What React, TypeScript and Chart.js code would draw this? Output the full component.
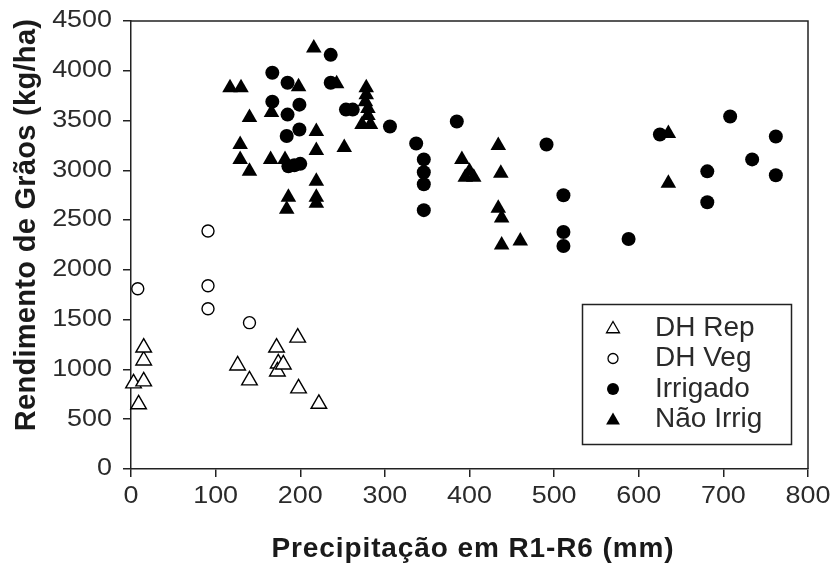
import React, { useEffect, useRef } from "react";
import { Chart, registerables } from "chart.js";

Chart.register(...registerables);

// ---- data ----
const dhRepX = [3, 9, 15, 15, 15, 126, 140, 172, 174, 173, 180, 197, 198, 222];
const dhRepY = [860, 650, 880, 1090, 1220, 1040, 890, 1220, 1060, 980, 1050, 1320, 810, 655];

const dhVegX = [8, 91, 91, 91, 140];
const dhVegY = [1810, 2390, 1840, 1610, 1470];

const irrigX = [167, 185, 167, 199, 185, 199, 184, 186, 193, 200, 236, 236, 254, 262, 306, 337, 346, 346, 346, 346, 385, 491, 511, 511, 511, 588, 625, 681, 681, 708, 734, 762, 762];
const irrigY = [3980, 3880, 3690, 3660, 3560, 3410, 3345, 3040, 3050, 3065, 4160, 3880, 3610, 3610, 3440, 3270, 3110, 2980, 2860, 2600, 3490, 3260, 2750, 2380, 2240, 2310, 3360, 2990, 2680, 3540, 3110, 3340, 2950];

const naoIrrX = [117, 130, 140, 129, 129, 140, 166, 165, 182, 198, 186, 184, 216, 219, 219, 219, 219, 219, 243, 252, 278, 278, 277, 280, 280, 273, 283, 391, 400, 395, 405, 434, 437, 434, 438, 438, 460, 635, 635];
const naoIrrY = [3830, 3830, 3530, 3260, 3110, 2990, 3580, 3110, 3110, 3840, 2730, 2610, 4230, 3390, 3200, 2890, 2730, 2670, 3870, 3230, 3830, 3760, 3690, 3620, 3550, 3460, 3460, 3110, 2990, 2930, 2930, 3250, 2970, 2620, 2520, 2250, 2290, 3370, 2870];

const seriesNames = ["DH Rep", "DH Veg", "Irrigado", "Não Irrig"];
const xTickValues = [0, 100, 200, 300, 400, 500, 600, 700, 800];
const yTickValues = [0, 500, 1000, 1500, 2000, 2500, 3000, 3500, 4000, 4500];
const xTitle = "Precipitação em R1-R6 (mm)";
const yTitle = "Rendimento de Grãos (kg/ha)";

const pts = (xs: number[], ys: number[]) => xs.map((x, i) => ({ x, y: ys[i] }));

const FONT = "'Liberation Sans', Arial, sans-serif";
const INK = "#222";

function txt(ctx: CanvasRenderingContext2D, s: string, x: number, y: number, font: string, align: CanvasTextAlign, sx: number, color: string, rot = 0, spacing = 0) {
  ctx.save();
  ctx.translate(x, y);
  if (rot) ctx.rotate(rot);
  ctx.scale(sx, 1);
  ctx.font = font;
  (ctx as any).letterSpacing = spacing + "px";
  ctx.textAlign = align;
  ctx.textBaseline = "middle";
  ctx.fillStyle = color;
  ctx.fillText(s, 0, 0);
  ctx.restore();
}

function tri(ctx: CanvasRenderingContext2D, x: number, y: number, r: number) {
  const h = r * Math.sqrt(3) / 2;
  ctx.beginPath();
  ctx.moveTo(x, y - r);
  ctx.lineTo(x + h, y + r / 2);
  ctx.lineTo(x - h, y + r / 2);
  ctx.closePath();
}

const decor = {
  id: "decor",
  afterDraw(chart: any) {
    const ctx = chart.ctx as CanvasRenderingContext2D;
    const ca = chart.chartArea;
    const xs = chart.scales.x;
    const ys = chart.scales.y;
    // frame (top and right)
    ctx.save();
    ctx.strokeStyle = INK;
    ctx.lineWidth = 1.5;
    ctx.beginPath();
    ctx.moveTo(ca.left, ca.top);
    ctx.lineTo(ca.right, ca.top);
    ctx.lineTo(ca.right, ca.bottom);
    ctx.stroke();
    ctx.restore();

    // tick labels
    const tickFont = `23px ${FONT}`;
    ys.ticks.forEach((t: any) => {
      txt(ctx, String(t.value), 112, ys.getPixelForValue(t.value), tickFont, "right", 1.17, "#2a2a2a");
    });
    xs.ticks.forEach((t: any) => {
      txt(ctx, String(t.value), xs.getPixelForValue(t.value), 497, tickFont, "center", 1.17, "#2a2a2a");
    });

    // axis titles
    txt(ctx, xTitle, 473, 549, `bold 28px ${FONT}`, "center", 1.0, "#1a1a1a", 0, 0.9);
    txt(ctx, yTitle, 27, 225, `bold 29px ${FONT}`, "center", 1.0, "#1a1a1a", -Math.PI / 2, 0.3);

    // legend
    ctx.save();
    ctx.fillStyle = "#fff";
    ctx.fillRect(582, 304, 209, 140);
    ctx.strokeStyle = INK;
    ctx.lineWidth = 1.5;
    ctx.strokeRect(582.5, 304.5, 209, 140);
    const rows = [328, 358.5, 389, 419.5];
    const mx = 613;
    ctx.lineWidth = 1.3;
    ctx.strokeStyle = "#000";
    ctx.fillStyle = "#fff";
    tri(ctx, mx, rows[0] + 1, 7.5);
    ctx.fill();
    ctx.stroke();
    ctx.beginPath();
    ctx.arc(mx, rows[1], 5, 0, Math.PI * 2);
    ctx.fill();
    ctx.stroke();
    ctx.fillStyle = "#000";
    ctx.beginPath();
    ctx.arc(mx, rows[2], 6, 0, Math.PI * 2);
    ctx.fill();
    tri(ctx, mx, rows[3] + 1, 8);
    ctx.fill();
    ctx.restore();
    seriesNames.forEach((n, i) => {
      txt(ctx, n, 655, rows[i], `28px ${FONT}`, "left", 1.0, "#2a2a2a");
    });
  },
};

export default function App() {
  const ref = useRef<HTMLCanvasElement>(null);
  useEffect(() => {
    document.body.style.margin = "0";
    const canvas = ref.current!;
    const chart = new Chart(canvas, {
      type: "scatter",
      data: {
        datasets: [
          { label: seriesNames[0], data: pts(dhRepX, dhRepY), pointStyle: "triangle", pointRadius: 9, pointBackgroundColor: "#fff", pointBorderColor: "#000", pointBorderWidth: 1.4, clip: false } as any,
          { label: seriesNames[1], data: pts(dhVegX, dhVegY), pointStyle: "circle", pointRadius: 6, pointBackgroundColor: "#fff", pointBorderColor: "#000", pointBorderWidth: 1.4, clip: false } as any,
          { label: seriesNames[2], data: pts(irrigX, irrigY), pointStyle: "circle", pointRadius: 7, pointBackgroundColor: "#000", pointBorderColor: "#000", pointBorderWidth: 0, clip: false } as any,
          { label: seriesNames[3], data: pts(naoIrrX, naoIrrY), pointStyle: "triangle", pointRadius: 9, pointBackgroundColor: "#000", pointBorderColor: "#000", pointBorderWidth: 0, clip: false } as any,
        ],
      },
      options: {
        responsive: false,
        animation: false,
        layout: { padding: { left: 0, top: 21, right: 25, bottom: 0 } },
        plugins: { legend: { display: false }, tooltip: { enabled: false } },
        scales: {
          x: {
            type: "linear",
            min: 0,
            max: 800,
            afterBuildTicks: (s: any) => { s.ticks = xTickValues.map((v) => ({ value: v })); },
            afterFit: (s: any) => { s.height = 575 - 469; },
            ticks: { display: false },
            grid: { drawOnChartArea: false, drawTicks: true, tickLength: 8, color: INK, lineWidth: 1.5 },
            border: { display: true, color: INK, width: 1.5 },
          },
          y: {
            type: "linear",
            min: 0,
            max: 4500,
            afterBuildTicks: (s: any) => { s.ticks = yTickValues.map((v) => ({ value: v })); },
            afterFit: (s: any) => { s.width = 131; },
            ticks: { display: false },
            grid: { drawOnChartArea: false, drawTicks: true, tickLength: 8, color: INK, lineWidth: 1.5 },
            border: { display: true, color: INK, width: 1.5 },
          },
        },
      } as any,
      plugins: [decor],
    });
    return () => chart.destroy();
  }, []);
  return (
    <div style={{ width: 833, height: 575, background: "#fff" }}>
      <canvas ref={ref} width={833} height={575} />
    </div>
  );
}
